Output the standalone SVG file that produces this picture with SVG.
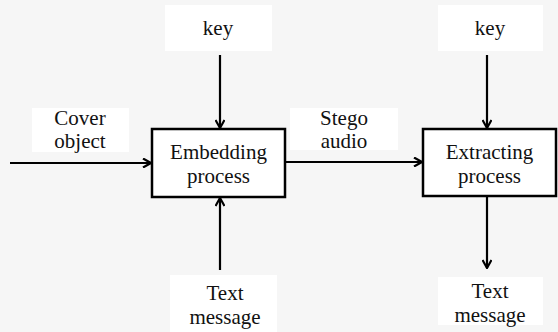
<svg xmlns="http://www.w3.org/2000/svg" width="558" height="332" viewBox="0 0 558 332">
<defs>
<style>
.bg{fill:#f6f6f6}
.lbl{fill:#ffffff}
.box{fill:#ffffff;stroke:#000;stroke-width:2.5}
.conn{stroke:#000;stroke-width:2.2;fill:none;marker-end:url(#ah)}
.t{font-family:'Liberation Serif','DejaVu Serif','Times New Roman',serif;font-size:21px;fill:#111;text-anchor:middle}
</style>
<marker id="ah" viewBox="0 0 10 10" refX="9" refY="5" markerWidth="10" markerHeight="10" markerUnits="userSpaceOnUse" orient="auto">
<path d="M1,0.5 L9,5 L1,9.5" fill="none" stroke="#000" stroke-width="2.2"/>
</marker>
</defs>
<rect class="bg" x="0" y="0" width="558" height="332"/>
<g id="connectors">
<line class="conn" x1="10" y1="163" x2="151" y2="163"/>
<line class="conn" x1="220" y1="55" x2="220" y2="128"/>
<line class="conn" x1="220" y1="270" x2="220" y2="198"/>
<line class="conn" x1="285" y1="162" x2="422" y2="162"/>
<line class="conn" x1="487" y1="55" x2="487" y2="128"/>
<line class="conn" x1="487" y1="196" x2="487" y2="268"/>
</g>
<g id="embedding">
<rect class="box" x="152" y="129" width="133" height="68"/>
<text class="t" x="218.5" y="159">Embedding</text>
<text class="t" x="218.5" y="183">process</text>
</g>
<g id="extracting">
<rect class="box" x="423" y="129" width="133" height="67"/>
<text class="t" x="489.5" y="159">Extracting</text>
<text class="t" x="489.5" y="183">process</text>
</g>
<g id="key1">
<rect class="lbl" x="165" y="5" width="107" height="46"/>
<text class="t" x="218" y="35">key</text>
</g>
<g id="key2">
<rect class="lbl" x="438" y="5" width="105" height="46"/>
<text class="t" x="490" y="35">key</text>
</g>
<g id="cover">
<rect class="lbl" x="32" y="108" width="97" height="44"/>
<text class="t" x="80" y="125">Cover</text>
<text class="t" x="80" y="148">object</text>
</g>
<g id="stego">
<rect class="lbl" x="290" y="108" width="108" height="42"/>
<text class="t" x="344" y="125">Stego</text>
<text class="t" x="344" y="148">audio</text>
</g>
<g id="textin">
<rect class="lbl" x="170" y="275" width="107" height="57"/>
<text class="t" x="225" y="300">Text</text>
<text class="t" x="225" y="324">message</text>
</g>
<g id="textout">
<rect class="lbl" x="438" y="277" width="105" height="48"/>
<text class="t" x="490" y="298">Text</text>
<text class="t" x="490" y="322">message</text>
</g>
</svg>
